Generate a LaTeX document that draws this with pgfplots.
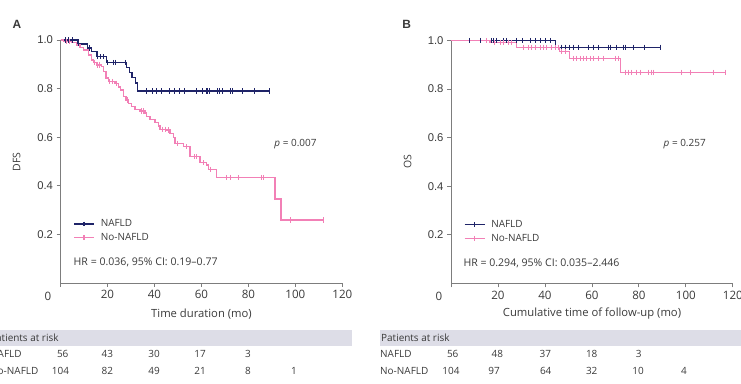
\documentclass[border=0pt]{standalone}
\usepackage{pgfplots}
\pgfplotsset{compat=1.18}
\usepackage{fontspec}
\setmainfont{Open Sans}
\newfontfamily\arial{Liberation Sans}

\definecolor{navy}{RGB}{31,36,104}
\definecolor{pinkc}{RGB}{242,128,182}
\definecolor{band}{RGB}{221,221,231}
\definecolor{txt}{RGB}{58,58,58}
\definecolor{axgray}{RGB}{125,125,125}

\newcommand{\fs}[1]{\fontsize{#1}{#1}\selectfont}

\pgfplotsset{
  km/.style={
    scale only axis, width=281.8bp, height=243bp,
    xmin=0, xmax=120, ymin=0, ymax=1,
    axis x line*=bottom, axis y line*=left,
    axis line style={axgray, line width=0.8bp, -},
    tick style={axgray, line width=0.8bp},
    tick align=outside, major tick length=4bp,
    xtick={0,20,...,120}, xticklabels={,20,40,60,80,100,120},
    ytick={0.2,0.4,...,1.0},
    /pgf/number format/assume math mode=true,
    yticklabel style={/pgf/number format/fixed, /pgf/number format/fixed zerofill,
      /pgf/number format/precision=1, font=\arial\fs{11.3}, text=txt},
    xticklabel style={font=\fs{11.6}, text=txt},
    clip=false,
    legend cell align=left,
    legend style={draw=none, fill=none, font=\fs{10}, text=txt, inner sep=0pt,
      row sep=5.2bp, column sep=6bp, anchor=west, at={(0.0452,0.2145)},
      nodes={inner sep=0pt}},
    legend image code/.code={
      \draw[#1, mark=none] (0bp,0bp) -- (20bp,0bp);
      \draw[#1, only marks] plot coordinates {(10bp,0bp)};
    },
  },
  navyline/.style={navy, line width=1.35bp, const plot, mark=none},
  pinkline/.style={pinkc, line width=1.35bp, const plot, mark=none},
  navycens/.style={navy, only marks, mark=|, mark size=2.6bp, mark options={line width=1bp}},
  pinkcens/.style={pinkc, only marks, mark=|, mark size=2.6bp, mark options={line width=1bp}},
}

\begin{document}
\begin{tikzpicture}
\path[use as bounding box] (0,0) rectangle (741bp,384bp);
\clip (0,0) rectangle (741bp,384bp);

% ---------------- Panel A: disease-free survival ----------------
\begin{axis}[km, at={(60.5bp,101bp)}, anchor=south west]
\addlegendimage{navy, line width=1.35bp, mark=|, mark size=2.4bp}
\addlegendentry{NAFLD}
\addlegendimage{pinkc, line width=1.35bp, mark=|, mark size=2.4bp}
\addlegendentry{No-NAFLD}
\addplot[navyline, forget plot] coordinates {
 (0,1) (7.4,0.984) (11.4,0.967) (13.1,0.952) (15.5,0.931) (19.5,0.908)
 (28,0.886) (29.5,0.865) (30.4,0.845) (31.9,0.823) (32.7,0.79) (89.2,0.79)};
\addplot[navycens, forget plot] coordinates {
 (2,1) (3.5,1) (5,1) (7.8,0.984) (12.4,0.967) (15.8,0.931) (17.1,0.931) (18.1,0.931)
 (20.2,0.908) (22.4,0.908) (23.3,0.908) (27.5,0.908)
 (36.5,0.79) (39.3,0.79) (40.7,0.79) (42.8,0.79) (46.4,0.79) (48.5,0.79) (50.6,0.79)
 (52.8,0.79) (57.7,0.79) (60.6,0.79) (62,0.79) (62.7,0.79) (63.4,0.79) (66.9,0.79)
 (67.7,0.79) (69.1,0.79) (72.6,0.79) (73.3,0.79) (77.6,0.79) (82.5,0.79) (89.2,0.79)};
\addplot[pinkline, forget plot] coordinates {
 (0,1) (1.2,0.995) (4.8,0.99) (6.9,0.979) (8.3,0.97) (9.7,0.959) (11.8,0.938)
 (13.3,0.918) (14.0,0.907) (15.4,0.897) (17.5,0.891) (18.2,0.87) (19.4,0.843)
 (20.4,0.829) (23.2,0.822) (24.6,0.806) (25.6,0.794) (26.7,0.767) (27.9,0.753)
 (28.9,0.74) (30.3,0.726) (31.7,0.715) (33.9,0.708) (36.0,0.699) (36.7,0.685)
 (38.1,0.674) (40.2,0.66) (41.7,0.646) (42.4,0.633) (45.2,0.63) (46.6,0.616)
 (48.0,0.6) (48.8,0.575) (52.3,0.561) (55.2,0.52) (59.4,0.495) (62.3,0.485)
 (63.0,0.468) (66.5,0.434) (91.4,0.346) (93.9,0.259) (111.9,0.259)};
\addplot[pinkcens, forget plot] coordinates {
 (2.6,0.995) (3.9,0.995) (14.5,0.907) (15.9,0.897) (16.8,0.897) (21,0.829) (22,0.829)
 (24.0,0.822) (28.5,0.753) (34.5,0.708) (35.2,0.708) (43.5,0.633) (44.5,0.633)
 (46,0.63) (50,0.575) (53.5,0.561) (57,0.52) (58,0.52) (61,0.495) (64,0.468)
 (70.8,0.434) (72.2,0.434) (75.7,0.434) (85.7,0.434) (86.4,0.434) (98.1,0.259) (111.9,0.259)};
\end{axis}

% ---------------- Panel B: overall survival ----------------
\begin{axis}[km, at={(451bp,100.5bp)}, anchor=south west]
\addlegendimage{navy, line width=1.35bp, mark=|, mark size=2.4bp}
\addlegendentry{NAFLD}
\addlegendimage{pinkc, line width=1.35bp, mark=|, mark size=2.4bp}
\addlegendentry{No-NAFLD}
\addplot[navyline, forget plot] coordinates {(0,1) (44.4,0.972) (89.3,0.972)};
\addplot[navycens, forget plot] coordinates {
 (7.8,1) (12.4,1) (17.3,1) (18.3,1) (19.5,1) (22.3,1) (23.7,1) (28,1) (30.5,1)
 (33.7,1) (35.8,1) (37.9,1) (40.1,1) (42.2,1)
 (47.2,0.972) (48.6,0.972) (50.4,0.972) (52.1,0.972) (54.3,0.972) (58.5,0.972)
 (60.6,0.972) (62.8,0.972) (67,0.972) (67.8,0.972) (70.6,0.972) (73.4,0.972)
 (74.1,0.972) (77.7,0.972) (82.6,0.972) (89.3,0.972)};
\addplot[pinkline, forget plot] coordinates {
 (0,1) (16.6,0.993) (28,0.972) (46.1,0.955) (50.4,0.927) (72.3,0.869) (117.1,0.869)};
\addplot[pinkcens, forget plot] coordinates {
 (15.2,1) (18.7,0.993) (20.9,0.993) (22.3,0.993) (24.4,0.993) (25.8,0.993)
 (30.8,0.972) (32.9,0.972) (34.4,0.972) (35.8,0.972) (37.9,0.972) (39.3,0.972)
 (40.8,0.972) (42.9,0.972) (44.3,0.972) (45.7,0.972)
 (47.2,0.955) (48.6,0.955)
 (52.1,0.927) (53.5,0.927) (55,0.927) (56.4,0.927) (57.8,0.927) (59.2,0.927)
 (60.6,0.927) (62.8,0.927) (64.9,0.927) (69.9,0.927) (71.3,0.927)
 (74.1,0.869) (75.6,0.869) (77,0.869) (79.1,0.869) (80.5,0.869) (84.1,0.869)
 (85.5,0.869) (86.2,0.869) (98.3,0.869) (101.8,0.869) (111.8,0.869) (116.7,0.869)};
\end{axis}

% ---------------- Labels, annotations and risk tables ----------------
\begin{scope}[x=1bp, y=1bp, every node/.style={text=txt, inner sep=0pt}]
  \node[font=\arial\bfseries\fs{12}] at (17,360) {A};
  \node[font=\arial\bfseries\fs{12}] at (406.7,360) {B};
  \node[font=\fs{10.5}, rotate=90] at (16.7,222) {DFS};
  \node[font=\fs{10.5}, rotate=90] at (407.7,222) {OS};
  \node[font=\fs{11.6}] at (48,88) {0};
  \node[font=\fs{11.6}] at (439,88) {0};
  \node[font=\fs{11.3}] at (201.5,70) {Time duration (mo)};
  \node[font=\fs{11.3}] at (592,70) {Cumulative time of follow-up (mo)};
  \node[font=\fs{10}] at (295.5,240) {\textit{p} = 0.007};
  \node[font=\fs{10}] at (684.7,240) {\textit{p} = 0.257};
  \node[font=\fs{10.6}, anchor=west] at (73.5,121.3) {HR = 0.036, 95\% CI: 0.19{\textendash}0.77};
  \node[font=\fs{10.6}, anchor=west] at (463.3,120.7) {HR = 0.294, 95\% CI: 0.035{\textendash}2.446};

  % risk table bands
  \fill[band] (-20,38) rectangle (352,54);
  \fill[band] (379.5,38) rectangle (760,54);
  \begin{scope}[every node/.append style={font=\fs{10}}]
    \node[anchor=west] at (-10,46) {Patients at risk};
    \node[anchor=west] at (-10,30) {NAFLD};
    \node[anchor=west] at (-10,13) {No-NAFLD};
    \node[anchor=west] at (381,46) {Patients at risk};
    \node[anchor=west] at (380,30) {NAFLD};
    \node[anchor=west] at (380,13) {No-NAFLD};
    % panel A numbers
    \node at (62.7,30) {56}; \node at (107.3,30) {43}; \node at (154,30) {30};
    \node at (200,30) {17}; \node at (248,30) {3};
    \node at (60.5,13) {104}; \node at (107.3,13) {82}; \node at (154,13) {49};
    \node at (200,13) {21}; \node at (248,13) {8}; \node at (294,13) {1};
    % panel B numbers
    \node at (452.7,30) {56}; \node at (497.3,30) {48}; \node at (545.3,30) {37};
    \node at (591.7,30) {18}; \node at (638.7,30) {3};
    \node at (451,13) {104}; \node at (494,13) {97}; \node at (545.7,13) {64};
    \node at (591.7,13) {32}; \node at (638,13) {10}; \node at (684,13) {4};
  \end{scope}
\end{scope}
\end{tikzpicture}
\end{document}
